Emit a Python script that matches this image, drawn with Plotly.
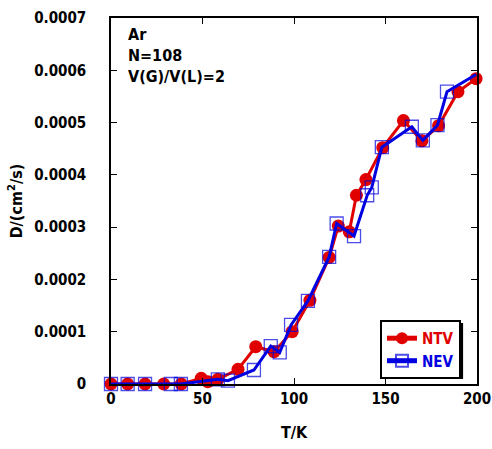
import plotly.graph_objects as go

# NTV series (red circles)
ntv_T = [0, 9.1, 18.6, 28.8, 38.4, 49.3, 52.9, 58.4, 69.4, 79.1, 89.1, 99.0,
         108.7, 119.2, 124.2, 130.2, 134.1, 139.3, 148.5, 159.8, 169.9, 179.0, 189.6, 199.5]
ntv_D = [0, 0, 0, 0, 0, 0.0000109, 0.0000044, 0.000009, 0.000028, 0.0000713, 0.0000617, 0.0001,
         0.00016, 0.000242, 0.000302, 0.000291, 0.000361, 0.000391, 0.000452, 0.000504,
         0.000465, 0.000494, 0.000559, 0.000584]

# NEV series (blue open squares); the last point has no visible marker
nev_T = [0, 9.1, 18.6, 32.7, 38.2, 58.4, 63.9, 78.1, 87.3, 92.2, 98.4, 107.6,
         119.2, 123.3, 132.8, 140.0, 142.5, 148.0, 164.4, 170.4, 178.4, 183.6, 199.5]
nev_D = [0, 0, 0, 0, 0, 0.000009, 0.0000063, 0.0000268, 0.0000726, 0.0000605, 0.000113, 0.000159,
         0.000243, 0.000307, 0.000283, 0.000361, 0.000376, 0.000453, 0.000492, 0.000466,
         0.000495, 0.000559, 0.000592]

x_ticks = [0, 50, 100, 150, 200]
y_ticks = [0, 0.0001, 0.0002, 0.0003, 0.0004, 0.0005, 0.0006, 0.0007]
y_ticktext = ["0", "0.0001", "0.0002", "0.0003", "0.0004", "0.0005", "0.0006", "0.0007"]

RED = "#e00000"
BLUE = "#0000e0"
FONT = "DejaVu Sans Condensed, Noto Sans CJK JP, sans-serif"

nev_sizes = [13] * (len(nev_T) - 1) + [0]

fig = go.Figure()
fig.add_trace(go.Scatter(
    x=ntv_T, y=ntv_D, mode="lines+markers",
    name="<b><span style='color:#e00000'>NTV</span></b>",
    line=dict(color=RED, width=3),
    marker=dict(symbol="circle", size=13, color=RED),
    cliponaxis=False,
))
fig.add_trace(go.Scatter(
    x=nev_T, y=nev_D, mode="lines+markers",
    name="<b><span style='color:#0000e0'>NEV</span></b>",
    line=dict(color=BLUE, width=3),
    marker=dict(symbol="square-open", size=nev_sizes, color=BLUE, line=dict(width=1.3, color=BLUE)),
    cliponaxis=False,
))

axis_common = dict(
    showline=True, linecolor="black", linewidth=1.5, mirror="ticks",
    ticks="inside", ticklen=6, tickwidth=1, tickcolor="black",
    showgrid=False, zeroline=False, automargin=False,
    tickfont=dict(family=FONT, size=15, color="black"),
    ticklabeloverflow="allow",
)

fig.update_layout(
    width=492, height=449,
    margin=dict(l=111, r=15, t=18, b=65),
    paper_bgcolor="white", plot_bgcolor="white",
    font=dict(family=FONT, color="black"),
    xaxis=dict(range=[-0.0001, 200.0001], tickvals=x_ticks, ticktext=["<b>%d</b>" % v for v in x_ticks],
               title=dict(text="<b>T/K</b>", font=dict(family=FONT, size=16), standoff=20),
               **axis_common),
    yaxis=dict(range=[-1e-10, 0.0007000001], tickvals=y_ticks, ticktext=["<b>%s</b>" % t for t in y_ticktext],
               ticklabelstandoff=20,
               title=dict(text="<b>D/(cm<sup>2</sup>/s)</b>", font=dict(family=FONT, size=16), standoff=8),
               **axis_common),
    showlegend=True,
    legend=dict(x=0.735, y=0.175, xanchor="left", yanchor="top",
                bgcolor="white", bordercolor="black", borderwidth=2,
                font=dict(family=FONT, size=15),
                itemwidth=30, tracegroupgap=0, itemsizing="constant"),
    annotations=[dict(
        text="<b>Ar<br>N=108<br>V(G)/V(L)=2</b>",
        xref="paper", yref="paper", x=0.04, y=0.985, xanchor="left", yanchor="top",
        showarrow=False, align="left",
        font=dict(family=FONT, size=16, color="black"),
    )],
    shapes=[dict(type="rect", xref="paper", yref="paper",
                 x0=0.743, x1=0.962, y0=0.014, y1=0.167,
                 fillcolor="black", line=dict(width=0), layer="above")],
)

fig.write_html("out.html")
